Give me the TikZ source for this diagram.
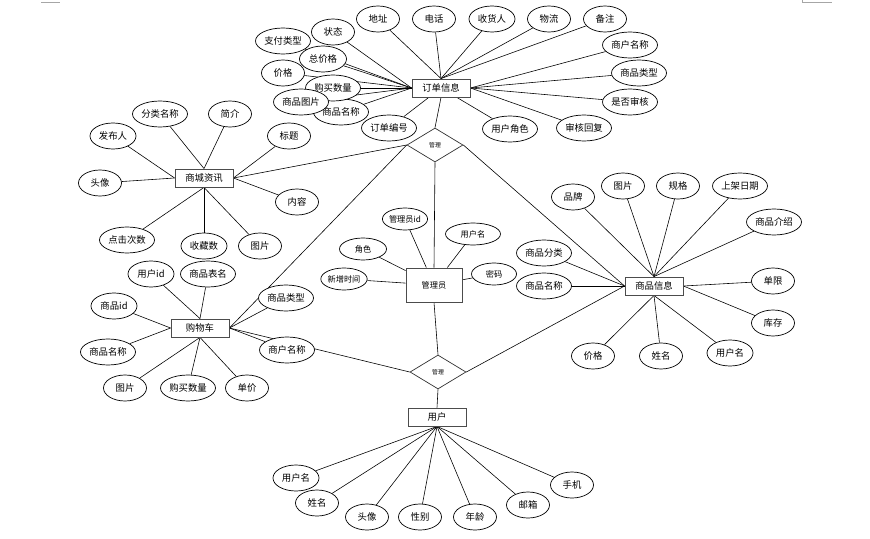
\documentclass[tikz,border=0pt]{standalone}
\usepackage{fontspec}
\setmainfont{Noto Sans CJK SC}
\usetikzlibrary{positioning, shapes.geometric, backgrounds}
\tikzset{
  ent/.style  ={rectangle, draw=black!70, line width=0.75pt, fill=white,
                minimum width=1.74cm, minimum height=0.54cm, inner sep=1pt,
                font=\fontsize{8}{9}\selectfont},
  rel/.style  ={diamond, draw=black!80, line width=0.6pt, fill=white,
                minimum width=1.68cm, minimum height=1.02cm, inner sep=0pt,
                font=\fontsize{5}{6}\selectfont},
  attr/.style ={ellipse, draw, line width=0.6pt, fill=white, minimum width=#1,
                minimum height=0.78cm, inner sep=0pt, font=\fontsize{8}{9}\selectfont},
  attr/.default=1.29cm,
  sattr/.style={attr=#1, minimum height=0.66cm, font=\fontsize{7}{8}\selectfont},
  sattr/.default=1.35cm,
  lnk/.style  ={draw=black, line width=0.5pt}
}

\begin{document}
\begin{tikzpicture}[on grid]
  \useasboundingbox (0,0) rectangle (26.1,-16.17);
  % page marks
  \draw[black!35, line width=0.6pt] (1.23,-0.075) -- (1.80,-0.075);
  \draw[black!35, line width=0.6pt] (24.06,0) -- (24.06,-0.075) -- (24.96,-0.075);

  % entities and relations
  \node[ent] (ord) at (13.23,-2.64) {订单信息};
  \node[ent] (news) at (6.12,-5.34) {商城资讯};
  \node[ent] (cart) at (6.00,-9.84) {购物车};
  \node[ent, minimum width=1.68cm, minimum height=1.02cm,
        font=\fontsize{7}{8}\selectfont] (admin) at (13.02,-8.55) {管理员};
  \node[ent] (goods) at (19.62,-8.58) {商品信息};
  \node[ent] (user) at (13.11,-12.51) {用户};
  \node[rel] (mgr1) at (13.05,-4.35) {管理};
  \node[rel] (mgr2) at (13.14,-11.16) {管理};

  % order attributes
  \node[attr, above left=2.07cm and 1.89cm of ord] (oaddr) {地址};
  \node[attr, above left=2.07cm and 0.21cm of ord] (otel) {电话};
  \node[attr=1.38cm, above right=2.07cm and 1.53cm of ord] (orecv) {收货人};
  \node[attr, above right=2.07cm and 3.24cm of ord] (oship) {物流};
  \node[attr, above right=2.07cm and 4.92cm of ord] (onote) {备注};
  \node[attr=1.65cm, above right=1.29cm and 5.67cm of ord] (oshop) {商户名称};
  \node[attr=1.65cm, above right=0.45cm and 5.94cm of ord] (otype) {商品类型};
  \node[attr=1.65cm, below right=0.42cm and 5.67cm of ord] (ocheck) {是否审核};
  \node[attr=1.65cm, below right=1.20cm and 4.29cm of ord] (oreply) {审核回复};
  \node[attr=1.65cm, below right=1.23cm and 2.07cm of ord] (orole) {用户角色};
  \node[attr=1.65cm, below left=1.20cm and 1.56cm of ord] (ono) {订单编号};
  \node[attr=1.65cm, below left=0.72cm and 3.00cm of ord] (oname) {商品名称};
  \node[attr=1.65cm, left=3.24cm of ord] (onum) {购买数量};
  \node[attr, above left=0.45cm and 4.74cm of ord] (oprice) {价格};
  \node[attr, above left=1.68cm and 3.24cm of ord] (ostate) {状态};
  \node[attr=1.65cm, above left=1.41cm and 4.74cm of ord] (opay) {支付类型};
  \node[attr=1.41cm, above left=0.87cm and 3.54cm of ord] (ototal) {总价格};
  \node[attr=1.65cm, below left=0.42cm and 4.20cm of ord] (opic) {商品图片};

  % news attributes
  \node[attr=1.65cm, above left=1.92cm and 1.32cm of news] (ncat) {分类名称};
  \node[attr, above right=1.92cm and 0.78cm of news] (nintro) {简介};
  \node[attr=1.38cm, above left=1.26cm and 2.73cm of news] (npub) {发布人};
  \node[attr, above right=1.26cm and 2.55cm of news] (ntitle) {标题};
  \node[attr, below left=0.15cm and 3.12cm of news] (navatar) {头像};
  \node[attr, below right=0.72cm and 2.79cm of news] (ntext) {内容};
  \node[attr=1.65cm, below left=1.86cm and 2.31cm of news] (nclick) {点击次数};
  \node[attr=1.38cm, below=2.04cm of news] (nfav) {收藏数};
  \node[attr, below right=2.04cm and 1.68cm of news] (npic) {图片};

  % cart attributes
  \node[attr=1.38cm, above left=1.62cm and 1.47cm of cart] (cuid) {用户id};
  \node[attr=1.65cm, above right=1.62cm and 0.24cm of cart] (ctab) {商品表名};
  \node[attr=1.38cm, above left=0.66cm and 2.58cm of cart] (cgid) {商品id};
  \node[attr=1.65cm, above right=0.90cm and 2.58cm of cart] (ctype) {商品类型};
  \node[attr=1.65cm, below left=0.72cm and 2.76cm of cart] (cname) {商品名称};
  \node[attr=1.65cm, below right=0.66cm and 2.61cm of cart] (cshop) {商户名称};
  \node[attr, below left=1.80cm and 2.25cm of cart] (cpic) {图片};
  \node[attr=1.65cm, below left=1.80cm and 0.36cm of cart] (cnum) {购买数量};
  \node[attr, below right=1.80cm and 1.41cm of cart] (cprice) {单价};

  % admin attributes
  \node[sattr=1.32cm, above left=1.98cm and 0.87cm of admin] (aid) {管理员id};
  \node[sattr=1.65cm, above right=1.53cm and 1.17cm of admin] (auser) {用户名};
  \node[sattr=1.41cm, above left=1.08cm and 2.13cm of admin] (arole) {角色};
  \node[sattr, above left=0.18cm and 2.70cm of admin] (atime) {新增时间};
  \node[sattr, above right=0.33cm and 1.80cm of admin] (apwd) {密码};

  % goods attributes
  \node[attr, above left=2.67cm and 2.43cm of goods] (gbrand) {品牌};
  \node[attr, above left=3.00cm and 0.93cm of goods] (gpic) {图片};
  \node[attr, above right=3.00cm and 0.72cm of goods] (gspec) {规格};
  \node[attr=1.65cm, above right=3.00cm and 2.58cm of goods] (gdate) {上架日期};
  \node[attr=1.65cm, above right=1.92cm and 3.60cm of goods] (gintro) {商品介绍};
  \node[attr=1.65cm, above left=0.99cm and 3.30cm of goods] (gcat) {商品分类};
  \node[attr=1.65cm, left=3.30cm of goods] (gname) {商品名称};
  \node[attr, above right=0.15cm and 3.57cm of goods] (glimit) {单限};
  \node[attr, below right=1.11cm and 3.57cm of goods] (gstock) {库存};
  \node[attr, below left=2.10cm and 1.83cm of goods] (gprice) {价格};
  \node[attr, below right=2.10cm and 0.21cm of goods] (gsname) {姓名};
  \node[attr=1.38cm, below right=2.01cm and 2.28cm of goods] (guser) {用户名};

  % user attributes
  \node[attr=1.38cm, below left=1.83cm and 4.23cm of user] (uname) {用户名};
  \node[attr, below left=2.58cm and 3.60cm of user] (ureal) {姓名};
  \node[attr, below left=3.00cm and 2.10cm of user] (uavatar) {头像};
  \node[attr, below left=3.00cm and 0.51cm of user] (usex) {性别};
  \node[attr, below right=3.00cm and 1.14cm of user] (uage) {年龄};
  \node[attr, below right=2.64cm and 2.73cm of user] (umail) {邮箱};
  \node[attr, below right=2.04cm and 4.05cm of user] (uphone) {手机};

  \begin{pgfonlayer}{background}
    % order
    \foreach \a in {oaddr, otel, orecv, oship, onote}
      \draw[lnk] (\a) -- (ord.north);
    \foreach \a in {ostate, opay, ototal, oprice, onum, opic, oname}
      \draw[lnk] (\a) -- (ord.west);
    \foreach \a in {oshop, otype, ocheck, oreply}
      \draw[lnk] (\a) -- (ord.east);
    \draw[lnk] (orole) -- (ord);
    \draw[lnk] (ono) -- (ord);
    % news
    \foreach \a in {ncat, nintro} \draw[lnk] (\a) -- (news.north);
    \foreach \a in {npub, navatar} \draw[lnk] (\a) -- (news.west);
    \foreach \a in {ntitle, ntext} \draw[lnk] (\a) -- (news.east);
    \foreach \a in {nclick, nfav, npic} \draw[lnk] (\a) -- (news.south);
    % cart
    \foreach \a in {cuid, ctab} \draw[lnk] (\a) -- (cart.north);
    \foreach \a in {cgid, cname} \draw[lnk] (\a) -- (cart.west);
    \foreach \a in {ctype, cshop} \draw[lnk] (\a) -- (cart.east);
    \foreach \a in {cpic, cnum, cprice} \draw[lnk] (\a) -- (cart.south);
    % admin
    \foreach \a in {aid, auser, arole, atime, apwd} \draw[lnk] (\a) -- (admin);
    % goods
    \foreach \a in {gbrand, gpic, gspec, gdate, gintro} \draw[lnk] (\a) -- (goods.north);
    \foreach \a in {gcat, gname} \draw[lnk] (\a) -- (goods.west);
    \foreach \a in {glimit, gstock} \draw[lnk] (\a) -- (goods.east);
    \foreach \a in {gprice, gsname, guser} \draw[lnk] (\a) -- (goods.south);
    % user
    \foreach \a in {uname, ureal, uavatar, usex, uage, umail, uphone}
      \draw[lnk] (\a) -- (user.south);
    % relations
    \draw[lnk] (mgr1.north) -- (ord.south);
    \draw[lnk] (mgr1.west) -- (news.east);
    \draw[lnk] (mgr1.west) -- (cart.east);
    \draw[lnk] (mgr1.east) -- (goods.west);
    \draw[lnk] (mgr1.south) -- (admin.north);
    \draw[lnk] (mgr2.north) -- (admin.south);
    \draw[lnk] (mgr2.west) -- (cart.east);
    \draw[lnk] (mgr2.east) -- (goods.west);
    \draw[lnk] (mgr2.south) -- (user.north);
  \end{pgfonlayer}
\end{tikzpicture}
\end{document}
